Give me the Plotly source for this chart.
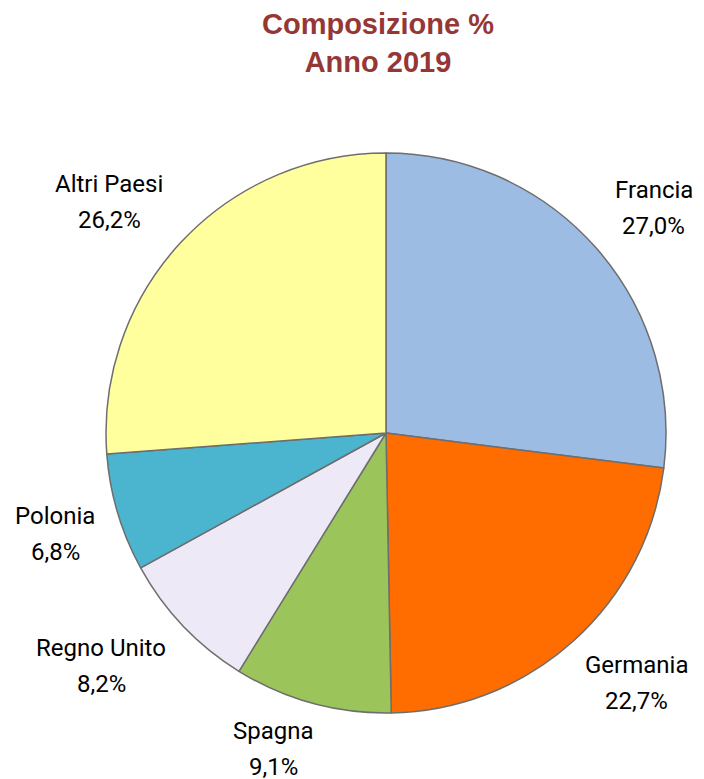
import math
import plotly.graph_objects as go

categories = ["Francia", "Germania", "Spagna", "Regno Unito", "Polonia", "Altri Paesi"]
values = [27.0, 22.7, 9.1, 8.2, 6.8, 26.2]
value_labels = ["27,0%", "22,7%", "9,1%", "8,2%", "6,8%", "26,2%"]
colors = ["#9DBCE3", "#FF6C00", "#9BC55B", "#EEE9F6", "#4BB5D0", "#FFFF9E"]

W, H = 704, 779
cx, cy, R = 378, 425, 280  # pie centre / radius in figure pixels

fig = go.Figure(go.Pie(
    labels=categories,
    values=values,
    sort=False,
    direction="clockwise",
    rotation=0,
    textinfo="none",
    hoverinfo="label+percent",
    marker=dict(colors=colors, line=dict(color="#6E6E6E", width=1.5)),
    domain=dict(x=[(cx - R) / W, (cx + R) / W],
                y=[1 - (cy + R) / H, 1 - (cy - R) / H]),
    showlegend=False,
))


def text_half_width(s):
    narrow = set("iltrfjI ")
    units = sum(0.5 if ch in narrow else 1.0 for ch in s)
    return units * 7.0


# label positions derived from slice mid-angles (label box corner touches a ring)
label_font = dict(family="Liberation Sans Narrow, Arial Narrow, Roboto, sans-serif",
                  size=24, color="#000000")
total = sum(values)
cum = 0.0
annotations = []
ring = R + 21
half_h = 26
for name, v, vl in zip(categories, values, value_labels):
    mid = (cum + v / 2) / total * 2 * math.pi
    cum += v
    ux, uy = math.sin(mid), -math.cos(mid)
    hw = text_half_width(name)
    px = cx + ring * ux + math.copysign(hw * min(1.0, abs(ux) * 3), ux)
    py = cy + ring * uy + math.copysign(half_h * min(1.0, abs(uy) * 2), uy)
    for txt, shift in ((name, 18), (vl, -18)):
        annotations.append(dict(
            x=px / W, y=1 - py / H, xref="paper", yref="paper",
            text=txt, showarrow=False, xanchor="center", yanchor="middle",
            yshift=shift, font=label_font))

fig.update_layout(
    width=W, height=H,
    margin=dict(l=0, r=0, t=0, b=0),
    paper_bgcolor="white",
    plot_bgcolor="white",
    title=dict(text="<b>Composizione %<br>Anno 2019</b>",
               x=370 / W, xanchor="center", y=1 - 26 / H, yanchor="middle",
               font=dict(family="Liberation Sans, Arial, sans-serif", size=29, color="#953735")),
    annotations=annotations,
)

fig.write_html("out.html")
